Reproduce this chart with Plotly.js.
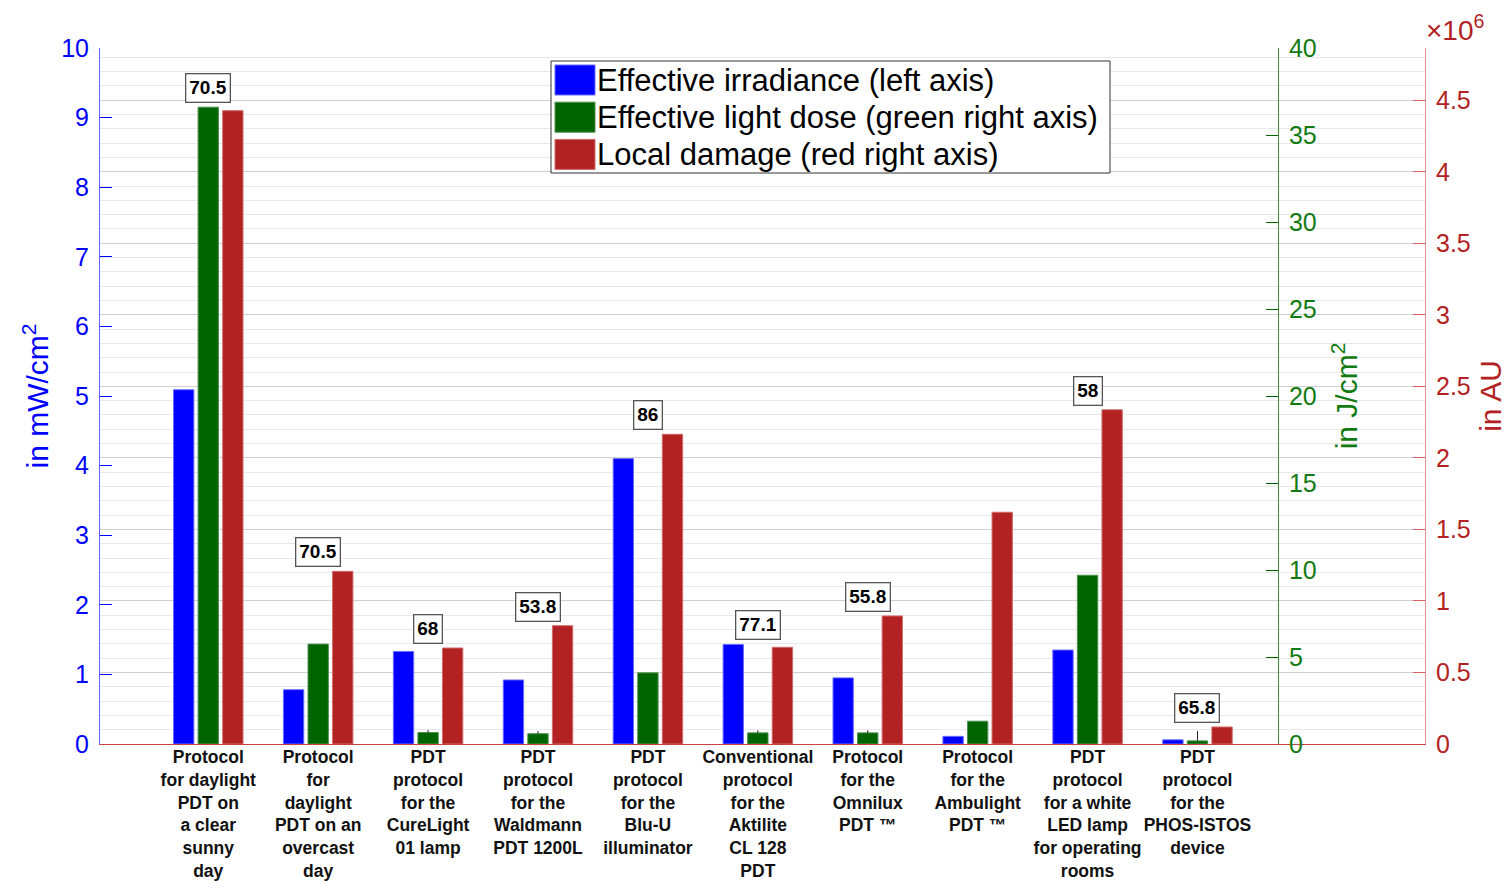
<!DOCTYPE html>
<html>
<head>
<meta charset="utf-8">
<script src="https://cdn.plot.ly/plotly-3.0.1.min.js"></script>
<style>
  html, body { margin: 0; padding: 0; background: #ffffff; }
  #chart { width: 1510px; height: 883px; }
</style>
</head>
<body>
<div id="chart"></div>
<script>
// ---- data ----
const categories = [
  "Protocol<br>for daylight<br>PDT on<br>a clear<br>sunny<br>day",
  "Protocol<br>for<br>daylight<br>PDT on an<br>overcast<br>day",
  "PDT<br>protocol<br>for the<br>CureLight<br>01 lamp",
  "PDT<br>protocol<br>for the<br>Waldmann<br>PDT 1200L",
  "PDT<br>protocol<br>for the<br>Blu-U<br>illuminator",
  "Conventional<br>protocol<br>for the<br>Aktilite<br>CL 128<br>PDT",
  "Protocol<br>for the<br>Omnilux<br>PDT \u2122",
  "Protocol<br>for the<br>Ambulight<br>PDT \u2122",
  "PDT<br>protocol<br>for a white<br>LED lamp<br>for operating<br>rooms",
  "PDT<br>protocol<br>for the<br>PHOS-ISTOS<br>device"
];
// Effective irradiance, mW/cm^2 (left axis)
const irradiance = [5.09, 0.78, 1.33, 0.92, 4.10, 1.43, 0.95, 0.11, 1.35, 0.06];
// Effective light dose, J/cm^2 (green right axis)
const lightDose = [36.6, 5.74, 0.66, 0.59, 4.09, 0.64, 0.64, 1.31, 9.70, 0.18];
const lightDoseErr = [0, 0, 0.15, 0.15, 0, 0.15, 0.15, 0, 0, 0.57];
// Local damage, AU (red right axis)
const localDamage = [4.427e6, 1.207e6, 0.671e6, 0.827e6, 2.165e6, 0.676e6, 0.895e6, 1.62e6, 2.336e6, 0.119e6];
// Box labels above the groups
const boxLabels = [70.5, 70.5, 68, 53.8, 86, 77.1, 55.8, null, 58, 65.8];
const seriesNames = ["Effective irradiance (left axis)", "Effective light dose (green right axis)", "Local damage (red right axis)"];
const redTickValues = [0, 0.5, 1, 1.5, 2, 2.5, 3, 3.5, 4, 4.5];

// ---- styles ----
const FONT = "Liberation Sans, Arial, Helvetica, sans-serif";
const BLUE = "#0000ff", GREEN = "#006400", RED = "#b22222";
const seriesColors = [BLUE, GREEN, RED];
const seriesEdges = ["#6a6aff", "#4f8f4f", "#d06a6a"];
const Y1MAX = 10, Y2MAX = 40, Y3MAX = 4.865e6;

// plot area in pixels (for the legend box placement)
const W = 1510, H = 883, ML = 100, MR = 85, MT = 48, MB = 139;
const PW = W - ML - MR, PH = H - MT - MB;
const px2x = px => (px - ML) / PW;
const px2y = py => (H - MB - py) / PH;

const traces = [
  {
    type: "bar", name: seriesNames[0], x: categories, y: irradiance, yaxis: "y",
    width: 0.185, offset: -0.316, showlegend: false,
    marker: { color: seriesColors[0], line: { color: seriesEdges[0], width: 1 } }
  },
  {
    type: "bar", name: seriesNames[1], x: categories, y: lightDose, yaxis: "y2",
    width: 0.185, offset: -0.0925, showlegend: false,
    marker: { color: seriesColors[1], line: { color: seriesEdges[1], width: 1 } },
    error_y: { type: "data", symmetric: false, array: lightDoseErr, arrayminus: lightDoseErr.map(() => 0),
               color: "#222", thickness: 1, width: 0 }
  },
  {
    type: "bar", name: seriesNames[2], x: categories, y: localDamage, yaxis: "y3",
    width: 0.185, offset: 0.131, showlegend: false,
    marker: { color: seriesColors[2], line: { color: seriesEdges[2], width: 1 } }
  }
];

const annotations = [];
const shapes = [];
categories.forEach((c, i) => {
  if (boxLabels[i] === null) return;
  const top = Math.max(irradiance[i] / Y1MAX, lightDose[i] / Y2MAX, localDamage[i] / Y3MAX);
  annotations.push({
    x: c, xref: "x", y: top, yref: "paper", yanchor: "bottom", yshift: 4,
    text: "<b>" + boxLabels[i] + "</b>", showarrow: false,
    font: { family: FONT, size: 19, color: "#000" },
    bgcolor: "#ffffff", bordercolor: "#555555", borderwidth: 1.3, borderpad: 3
  });
});
annotations.push({
  x: 1, xref: "paper", xanchor: "left", xshift: -1, y: 1, yref: "paper", yanchor: "bottom", yshift: 0,
  text: "\u00d710<sup>6</sup>", showarrow: false,
  font: { family: FONT, size: 28, color: RED }
});

// legend (drawn as a box with large colour swatches, like the reference)
const LEG = { left: 551, right: 1110, top: 61, bottom: 173, swL: 555, swR: 595, sw0: 65, swH: 30, row: 37.2, textL: 595 };
shapes.push({
  type: "rect", xref: "paper", yref: "paper", layer: "above",
  x0: px2x(LEG.left), x1: px2x(LEG.right), y0: px2y(LEG.bottom), y1: px2y(LEG.top),
  fillcolor: "#ffffff", line: { color: "#333333", width: 1 }
});
seriesNames.forEach((name, i) => {
  const t = LEG.sw0 + LEG.row * i;
  shapes.push({
    type: "rect", xref: "paper", yref: "paper", layer: "above",
    x0: px2x(LEG.swL), x1: px2x(LEG.swR), y0: px2y(t + LEG.swH), y1: px2y(t),
    fillcolor: seriesColors[i], line: { color: seriesEdges[i], width: 1 }
  });
  annotations.push({
    x: px2x(LEG.textL), xref: "paper", xanchor: "left",
    y: px2y(t + LEG.swH / 2), yref: "paper", yanchor: "middle",
    text: name, showarrow: false,
    font: { family: FONT, size: 31, color: "#000" }
  });
});

const layout = {
  width: W, height: H,
  margin: { l: ML, r: MR, t: MT, b: MB },
  paper_bgcolor: "#ffffff", plot_bgcolor: "#ffffff",
  font: { family: FONT },
  showlegend: false,
  xaxis: {
    type: "category", range: [-0.985, 11.07], domain: [0, 1],
    showgrid: false, zeroline: false, showline: true, linecolor: "#c84040", linewidth: 1,
    ticks: "", tickangle: 0, ticklabelstandoff: -3,
    tickfont: { family: FONT, size: 17.5, color: "#111", weight: "bold" },
    automargin: false
  },
  yaxis: {
    range: [0, Y1MAX], dtick: 1, side: "left",
    showgrid: false, zeroline: false, showline: true, linecolor: "#6060ff", linewidth: 1,
    ticks: "inside", ticklen: 12, tickcolor: BLUE, tickwidth: 1,
    ticklabelstandoff: 5,
    tickfont: { family: FONT, size: 25, color: BLUE },
    title: { text: "in mW/cm<sup>2</sup>", font: { family: FONT, size: 30, color: BLUE }, standoff: 3 },
    automargin: false
  },
  yaxis2: {
    range: [0, Y2MAX], dtick: 5, overlaying: "y", anchor: "free", position: 0.889, side: "right",
    showgrid: false, zeroline: false, showline: true, linecolor: "#3c8c3c", linewidth: 1,
    ticks: "inside", ticklen: 12, tickcolor: GREEN, tickwidth: 1,
    ticklabelstandoff: 5,
    tickfont: { family: FONT, size: 25, color: "#127a12" },
    title: { text: "in J/cm<sup>2</sup>", font: { family: FONT, size: 30, color: "#127a12" }, standoff: 20 },
    automargin: false
  },
  yaxis3: {
    range: [0, Y3MAX], overlaying: "y", anchor: "x", side: "right",
    tickmode: "array",
    tickvals: redTickValues.map(v => v * 1e6),
    ticktext: redTickValues.map(v => String(v)),
    showgrid: true, gridcolor: "#d0d0d0", gridwidth: 1.2,
    minor: { dtick: 1e5, tick0: 0, showgrid: true, gridcolor: "#e8e8e8", gridwidth: 1, ticks: "" },
    zeroline: false, showline: true, linecolor: "#e08c8c", linewidth: 1,
    ticks: "inside", ticklen: 12, tickcolor: "#d46060", tickwidth: 1,
    ticklabelstandoff: 5,
    tickfont: { family: FONT, size: 25, color: RED },
    title: { text: "in AU", font: { family: FONT, size: 30, color: RED }, standoff: 10 },
    automargin: false
  },
  annotations: annotations,
  shapes: shapes
};

Plotly.newPlot("chart", traces, layout, { displayModeBar: false, responsive: false });
</script>
</body>
</html>
